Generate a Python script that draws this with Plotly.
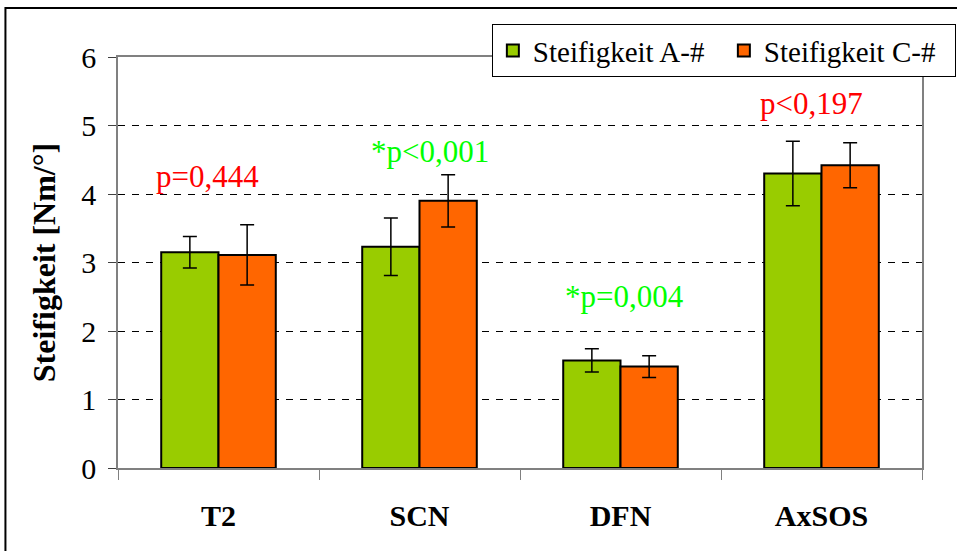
import plotly.graph_objects as go

categories = ["T2", "SCN", "DFN", "AxSOS"]
series_a_name = "Steifigkeit A-#"
series_c_name = "Steifigkeit C-#"
values_a = [3.15, 3.23, 1.57, 4.30]
errors_a = [0.23, 0.42, 0.17, 0.47]
values_c = [3.11, 3.90, 1.48, 4.42]
errors_c = [0.44, 0.38, 0.16, 0.33]
p_labels = ["p=0,444", "*p<0,001", "*p=0,004", "p<0,197"]
p_colors = ["#FF0000", "#00FF00", "#00FF00", "#FF0000"]
p_x = [-0.057, 1.05, 2.02, 2.95]
p_y = [4.26, 4.62, 2.51, 5.32]
y_ticks = [0, 1, 2, 3, 4, 5, 6]

FONT = "Liberation Serif"

fig = go.Figure()
fig.add_trace(go.Bar(
    name=series_a_name, x=categories, y=values_a,
    marker=dict(color="#99CC00", line=dict(color="black", width=2)),
    error_y=dict(type="data", array=errors_a, color="black", thickness=1.5, width=7),
))
fig.add_trace(go.Bar(
    name=series_c_name, x=categories, y=values_c,
    marker=dict(color="#FF6600", line=dict(color="black", width=2)),
    error_y=dict(type="data", array=errors_c, color="black", thickness=1.5, width=7),
))

for txt, col, xx, yy in zip(p_labels, p_colors, p_x, p_y):
    fig.add_annotation(x=xx, y=yy, xref="x", yref="y", text=txt, showarrow=False,
                       font=dict(family=FONT, size=31, color=col),
                       xanchor="center", yanchor="middle")

# outer chart frame
fig.add_shape(type="rect", xref="paper", yref="paper",
              x0=-0.140, y0=-0.224, x1=1.047, y1=1.119,
              line=dict(color="black", width=2), fillcolor="rgba(0,0,0,0)", layer="below")

fig.update_layout(
    width=957, height=551,
    margin=dict(l=118, r=35, t=57, b=83, autoexpand=False),
    paper_bgcolor="white", plot_bgcolor="white",
    barmode="group", bargap=0.43, bargroupgap=0,
    font=dict(family=FONT, size=29, color="black"),
    showlegend=True,
    legend=dict(orientation="h", x=0.465, y=1.08, xanchor="left", yanchor="top",
                bgcolor="white", bordercolor="black", borderwidth=1,
                font=dict(family=FONT, size=29, color="black"),
                itemwidth=30, tracegroupgap=0, entrywidth=186, entrywidthmode="pixels"),
    xaxis=dict(
        type="category", showline=True, linecolor="#808080", linewidth=1.5,
        mirror=True, ticks="outside", tickson="boundaries", ticklen=10,
        tickcolor="#808080", showgrid=False, ticklabelstandoff=20,
        tickfont=dict(family=FONT, size=30, color="black", weight="bold"),
        range=[-0.5, 3.5],
    ),
    yaxis=dict(
        range=[0, 6], tickvals=y_ticks, showline=True, linecolor="#808080", linewidth=1.5,
        mirror=True, ticks="outside", ticklen=8, tickcolor="#404040",
        showgrid=True, gridcolor="black", gridwidth=1, griddash="7px,7px",
        zeroline=False, ticklabelstandoff=6,
        tickfont=dict(family=FONT, size=30, color="black"),
        title=dict(text="Steifigkeit [Nm/°]", standoff=16,
                   font=dict(family=FONT, size=32, color="black", weight="bold")),
    ),
)

fig.write_html("out.html")
